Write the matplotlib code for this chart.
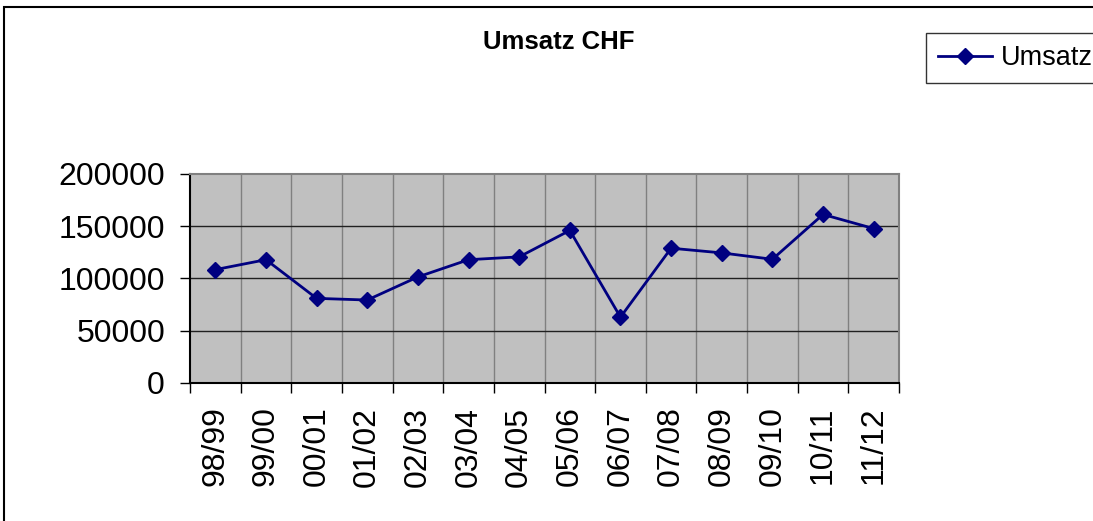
import matplotlib
matplotlib.use("Agg")
import matplotlib.pyplot as plt
import numpy as np
from matplotlib.patches import Rectangle

plt.rcParams['font.family'] = ['Liberation Sans', 'DejaVu Sans']

jahre = ['98/99', '99/00', '00/01', '01/02', '02/03', '03/04', '04/05',
         '05/06', '06/07', '07/08', '08/09', '09/10', '10/11', '11/12']
umsatz = [108500, 118000, 81000, 79400, 101500, 118000, 120700,
          146000, 63000, 129000, 124500, 118400, 161300, 147800]

fig = plt.figure(figsize=(10.93, 5.21), dpi=100)
ax = fig.add_axes([190 / 1093, 1 - 383 / 521, 709 / 1093, 209 / 521])
ax.set_facecolor('#c0c0c0')

x = np.arange(len(jahre))
ax.plot(x, umsatz, color='#000080', lw=2, marker='D', ms=8,
        mec='#000080', mfc='#000080', label='Umsatz', zorder=3)

ax.set_xlim(-0.5, len(jahre) - 0.5)
ax.set_ylim(0, 200000)
ax.set_yticks([0, 50000, 100000, 150000, 200000])
ax.set_yticklabels(['0', '50000', '100000', '150000', '200000'], fontsize=23)

# category boundaries carry ticks and vertical gridlines
bounds = np.arange(len(jahre) + 1) - 0.5
ax.set_xticks(bounds)
ax.set_xticklabels([])
ax.set_xticks(x, minor=True)
ax.set_xticklabels(jahre, minor=True, rotation=90, fontsize=23)
ax.tick_params(axis='x', which='minor', length=0, pad=17)
ax.tick_params(axis='x', which='major', length=7, width=1, color='black', direction='out')
ax.tick_params(axis='y', length=7, width=1, color='black', direction='out', pad=11)

for b in bounds[1:-1]:
    ax.axvline(b, color='#808080', lw=1, zorder=1)
for v in [50000, 100000, 150000]:
    ax.axhline(v, color='#202020', lw=1, zorder=1)

ax.spines['left'].set_color('black')
ax.spines['bottom'].set_color('black')
ax.spines['top'].set_color('#808080')
ax.spines['right'].set_color('#808080')
for s in ax.spines.values():
    s.set_linewidth(1.5)

fig.text(559 / 1093, 1 - 42 / 521, 'Umsatz CHF', ha='center', va='center',
         fontsize=18.5, fontweight='bold')

leg = fig.legend(loc='upper left', bbox_to_anchor=(926 / 1093, 1 - 33 / 521),
                 fontsize=19.5, frameon=True, fancybox=False, borderaxespad=0,
                 handlelength=2.0, handletextpad=0.3, borderpad=0.45)
leg.get_frame().set_edgecolor('black')
leg.get_frame().set_linewidth(1)

fig.patches.append(Rectangle((4, -10), 1200, 521 - 7 + 10, transform=None,
                             fill=False, edgecolor='black', lw=1.5))

fig.savefig('out.png', dpi=100)
